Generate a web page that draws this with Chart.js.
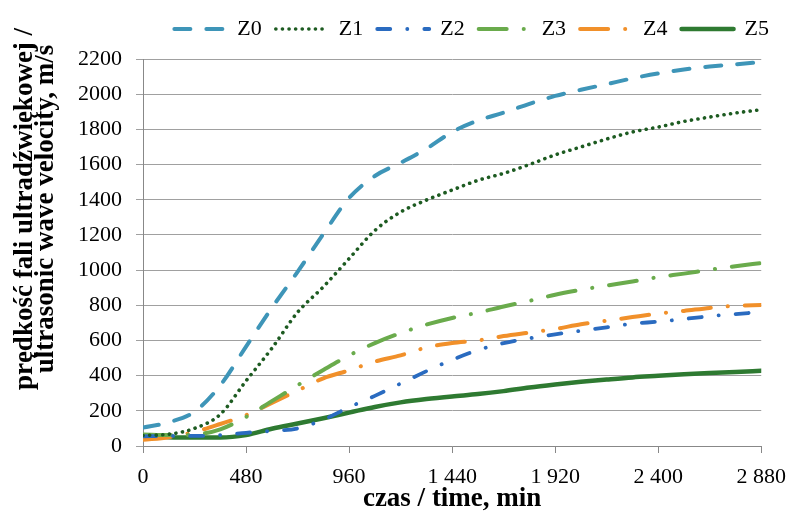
<!DOCTYPE html>
<html>
<head>
<meta charset="utf-8">
<script src="https://cdn.jsdelivr.net/npm/chart.js@4/dist/chart.umd.min.js"></script>
<style>
  html, body { margin: 0; padding: 0; background: #fff; }
  #wrap { width: 788px; height: 515px; }
</style>
</head>
<body>
<div id="wrap"><canvas id="grafico" width="788" height="515"></canvas></div>
<script>
// czas, min
const czas = [0, 120, 240, 360, 480, 600, 720, 840, 960, 1080, 1200, 1320, 1440,
  1560, 1680, 1800, 1920, 2040, 2160, 2280, 2400, 2520, 2640, 2760, 2880];

// predkosc fali, m/s
const z0 = [105, 135, 195, 345, 565, 785, 990, 1205, 1410, 1535, 1610, 1690, 1785,
  1850, 1895, 1945, 1990, 2025, 2057, 2090, 2118, 2140, 2157, 2170, 2182];
const z1 = [60, 67, 100, 180, 370, 555, 760, 905, 1065, 1225, 1330, 1398, 1455,
  1510, 1550, 1600, 1655, 1700, 1745, 1785, 1813, 1845, 1870, 1893, 1912];
const z2 = [55, 57, 57, 62, 75, 86, 100, 150, 220, 285, 355, 425, 490,
  545, 585, 612, 635, 655, 675, 695, 707, 722, 738, 750, 762];
const z3 = [65, 62, 65, 95, 165, 255, 345, 432, 515, 585, 642, 690, 728,
  758, 793, 825, 860, 888, 912, 935, 960, 980, 1002, 1022, 1040];
const z4 = [35, 50, 80, 125, 175, 245, 315, 385, 430, 480, 515, 560, 585,
  600, 625, 645, 665, 692, 712, 733, 753, 768, 785, 797, 802];
const z5 = [60, 50, 48, 48, 62, 98, 128, 158, 190, 222, 248, 267, 282,
  295, 312, 333, 350, 365, 378, 390, 399, 408, 415, 421, 428];

const nazwy = ['Z0', 'Z1', 'Z2', 'Z3', 'Z4', 'Z5'];
const yTicks = [0, 200, 400, 600, 800, 1000, 1200, 1400, 1600, 1800, 2000, 2200];
const xTicks = [0, 480, 960, 1440, 1920, 2400, 2880];
const tytulY = ['prędkość fali ultradźwiękowej /', 'ultrasonic wave velocity, m/s'];

const serie = [z0, z1, z2, z3, z4, z5];
const style = [
  { color: '#3e95b8', dash: [16, 16], width: 4 },
  { color: '#1d5b21', dash: [0.1, 6.5], width: 3.6 },
  { color: '#2a6bc0', dash: [13, 17, 0.1, 17], width: 3.8 },
  { color: '#6aab4c', dash: [28, 17, 0.1, 17], width: 4 },
  { color: '#f1902a', dash: [28, 17, 0.1, 17], width: 4 },
  { color: '#2e7a31', dash: [], width: 4.5 }
];

function separator(v) {
  return String(v).replace(/\B(?=(\d{3})+(?!\d))/g, ' ');
}

const datasets = serie.map((s, i) => ({
  label: nazwy[i],
  data: s.map((v, j) => ({ x: czas[j], y: v })),
  borderColor: style[i].color,
  backgroundColor: style[i].color,
  borderWidth: style[i].width,
  borderDash: style[i].dash,
  borderCapStyle: 'round',
  pointRadius: 0,
  pointStyle: 'line',
  cubicInterpolationMode: 'monotone',
  fill: false
}));

const serif = "'Liberation Serif', 'Times New Roman', serif";

// odstep pod legenda i przesuniecie w lewo
const legendaOdstep = {
  id: 'legendaOdstep',
  beforeInit(chart) {
    const fit = chart.legend.fit;
    chart.legend.fit = function () {
      fit.call(this);
      this.height += 9;
    };
  },
  afterLayout(chart) {
    chart.legend.right -= 5;
  }
};

// tytul osi Y (dwie linie, wyzej niz srodek osi)
const tytulOsiY = {
  id: 'tytulOsiY',
  afterDraw(chart) {
    const ctx = chart.ctx;
    ctx.save();
    ctx.fillStyle = '#000';
    ctx.font = "bold 27px " + serif;
    ctx.textAlign = 'center';
    ctx.textBaseline = 'middle';
    ctx.translate(25, 209);
    ctx.rotate(-Math.PI / 2);
    ctx.fillText(tytulY[0], 0, 0);
    ctx.fillText(tytulY[1], 0, 21);
    ctx.restore();
  }
};

new Chart(document.getElementById('grafico').getContext('2d'), {
  type: 'line',
  data: { datasets: datasets },
  plugins: [legendaOdstep, tytulOsiY],
  options: {
    responsive: false,
    animation: false,
    layout: { padding: { top: 4, right: 0, left: 64, bottom: 2 } },
    plugins: {
      legend: {
        position: 'top',
        align: 'end',
        labels: {
          usePointStyle: true,
          pointStyleWidth: 52,
          boxWidth: 52,
          boxHeight: 22,
          padding: 14,
          color: '#000',
          font: { family: serif, size: 22 },
          generateLabels: (chart) => {
            const items = Chart.defaults.plugins.legend.labels.generateLabels(chart);
            items.forEach((it, i) => {
              it.lineDash = style[i].dash;
              it.lineCap = 'round';
              it.lineWidth = style[i].width;
              it.strokeStyle = style[i].color;
            });
            return items;
          }
        }
      },
      tooltip: { enabled: false }
    },
    scales: {
      x: {
        type: 'linear',
        min: 0,
        max: 2880,
        afterBuildTicks: (axis) => { axis.ticks = xTicks.map(v => ({ value: v })); },
        ticks: {
          color: '#000',
          font: { family: serif, size: 22, lineHeight: 2.0 },
          padding: 2,
          maxRotation: 0,
          callback: (v) => separator(v)
        },
        grid: { drawOnChartArea: false, color: '#888', tickLength: 7 },
        border: { color: '#888' },
        title: {
          display: true,
          text: 'czas / time, min',
          color: '#000',
          font: { family: serif, size: 27, weight: 'bold', lineHeight: 1 },
          padding: { top: -15, bottom: 0 }
        }
      },
      y: {
        min: 0,
        max: 2200,
        afterBuildTicks: (axis) => { axis.ticks = yTicks.map(v => ({ value: v })); },
        ticks: {
          color: '#000',
          font: { family: serif, size: 22 },
          padding: 14,
          callback: (v) => String(v)
        },
        grid: { color: '#a0a0a0', tickLength: 7 },
        border: { color: '#888' }
      }
    }
  }
});
</script>
</body>
</html>
